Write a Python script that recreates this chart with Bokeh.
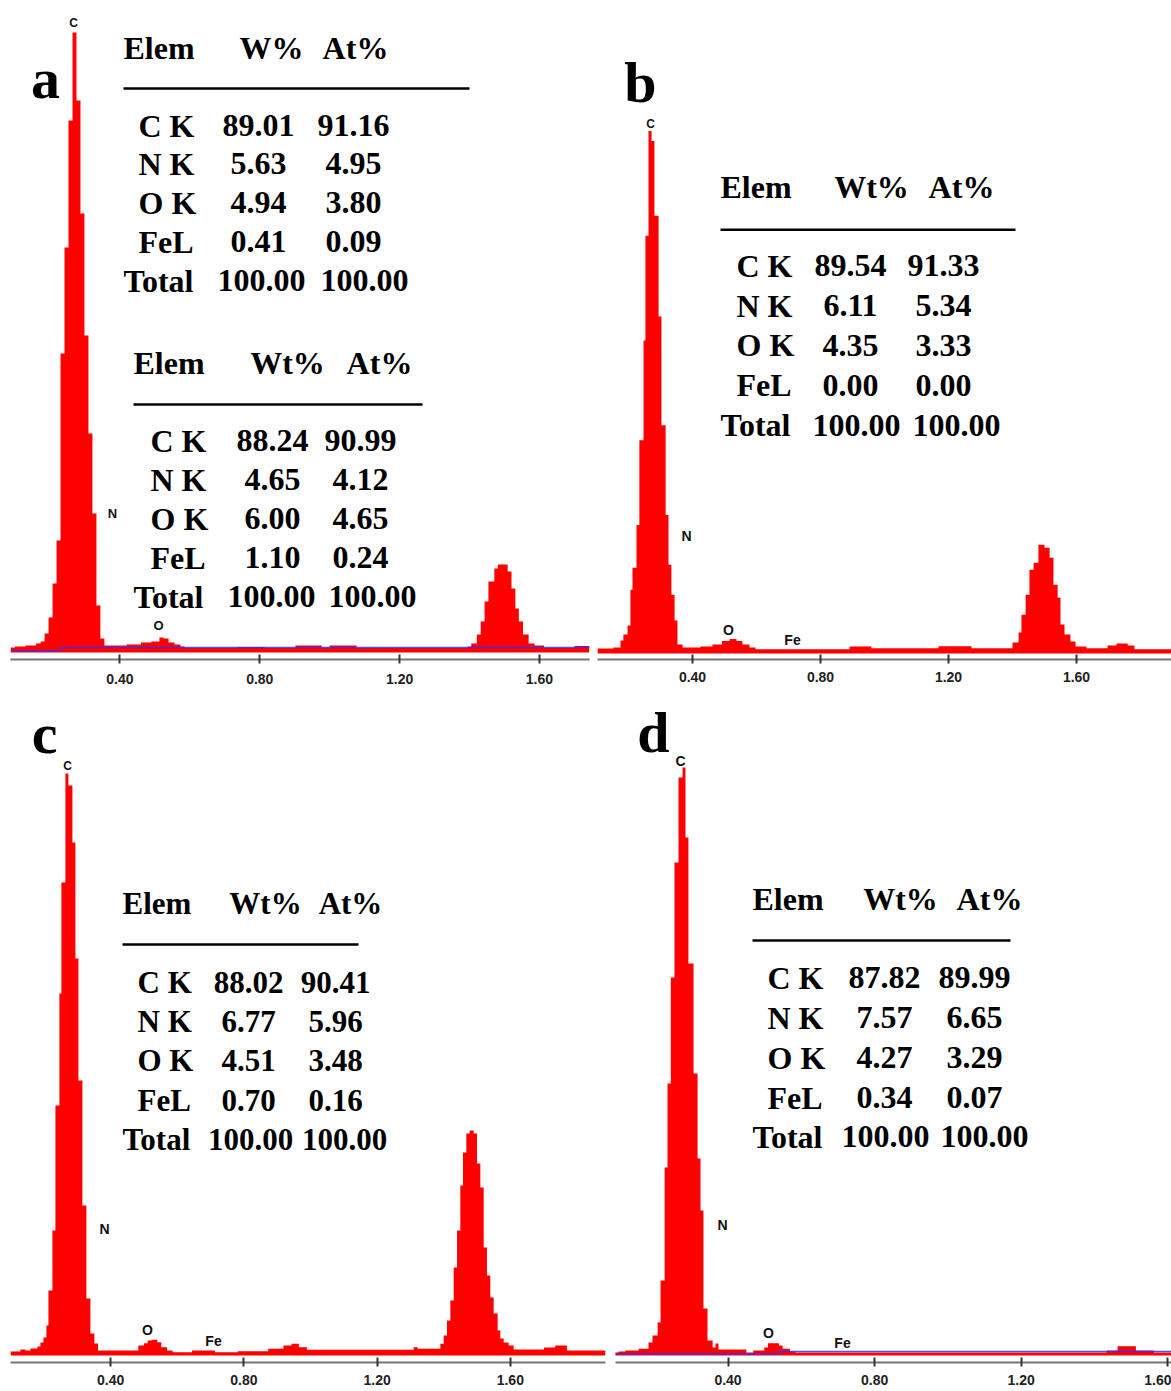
from bokeh.plotting import figure
from bokeh.layouts import column, row
from bokeh.models import FixedTicker, PrintfTickFormatter, Range1d
from bokeh.embed import file_html
from bokeh.resources import INLINE
from bokeh.core.properties import value

# ------------------------------------------------------------------ data
TICKS = [0.40, 0.80, 1.20, 1.60]
ELEMENTS = ["C K", "N K", "O K", "FeL", "Total"]

# panel a spectrum: bin edges (keV) and counts (arbitrary units)
A_EDGES = [0.087, 0.100, 0.115, 0.130, 0.145, 0.160, 0.1731, 0.1845, 0.1959, 0.2073,
           0.2187, 0.2301, 0.2415, 0.2529, 0.2643, 0.2757, 0.2871, 0.2985, 0.3099, 0.3213,
           0.3327, 0.3441, 0.3555, 0.385, 0.419, 0.460, 0.490, 0.513, 0.525, 0.539,
           0.556, 0.573, 0.585, 0.736, 0.814, 0.902, 0.977, 1.000, 1.077, 1.394,
           1.405, 1.421, 1.432, 1.443, 1.454, 1.471, 1.481, 1.509, 1.520, 1.531,
           1.541, 1.553, 1.569, 1.586, 1.613, 1.700, 1.743]
A_COUNTS = [5, 6, 6, 7, 7, 9, 11, 19, 35, 69,
            112, 299, 405, 532, 620, 552, 439, 317, 219, 139,
            47, 14, 7, 7, 8, 10, 11, 15, 14, 10,
            8, 6, 4.5, 5.5, 4.5, 7, 5, 7, 4.5, 6,
            9, 18, 31, 51, 71, 84, 88, 81, 64, 44,
            31, 18, 9, 7, 4.5, 6.5]
A_BG_X = [0.087, 0.232, 0.232, 1.743]
A_BG_Y = [2, 2, 5, 5]

B_EDGES = [0.103, 0.153, 0.175, 0.184, 0.197, 0.206, 0.2125, 0.225, 0.234, 0.247,
           0.253, 0.2625, 0.272, 0.281, 0.294, 0.303, 0.316, 0.325, 0.334, 0.344,
           0.353, 0.369, 0.425, 0.4625, 0.492, 0.516, 0.5375, 0.556, 0.578, 0.597,
           0.891, 0.959, 1.169, 1.272, 1.400, 1.419, 1.428, 1.441, 1.453, 1.466,
           1.481, 1.500, 1.516, 1.528, 1.541, 1.550, 1.5625, 1.581, 1.597, 1.631,
           1.697, 1.725, 1.760, 1.781, 1.900]
B_COUNTS = [5, 6, 13, 19, 28, 64, 86, 129, 214, 314,
            419, 524, 514, 439, 338, 229, 139, 89, 59, 33,
            9, 6, 7, 9, 12.5, 14.5, 12.5, 9, 6, 4.3,
            7, 5.3, 7.3, 5.3, 11, 21, 39, 59, 84, 91,
            109, 106, 96, 69, 56, 29, 19, 12, 7, 5.3,
            8, 10, 8, 4.3]

C_EDGES = [0.099, 0.129, 0.144, 0.159, 0.180, 0.189, 0.198, 0.207, 0.213, 0.225,
           0.234, 0.246, 0.252, 0.264, 0.273, 0.285, 0.294, 0.303, 0.315, 0.327,
           0.339, 0.351, 0.362, 0.483, 0.500, 0.511, 0.523, 0.540, 0.552, 0.569,
           0.586, 0.644, 0.713, 0.782, 0.873, 0.919, 0.943, 0.965, 0.989, 1.310,
           1.322, 1.390, 1.400, 1.410, 1.420, 1.430, 1.440, 1.450, 1.458, 1.468,
           1.478, 1.490, 1.500, 1.510, 1.520, 1.530, 1.540, 1.550, 1.562, 1.570,
           1.580, 1.595, 1.610, 1.701, 1.735, 1.770, 1.886]
C_COUNTS = [4, 6, 5, 7, 9, 13, 18, 30, 65, 125,
            250, 362, 473, 582, 570, 513, 397, 275, 150, 57,
            22, 12, 5, 10, 12.3, 15, 15.7, 13.3, 8.3, 5,
            3.3, 5, 3.3, 4.3, 6.7, 10, 11.7, 8.3, 5.7, 8.3,
            6.7, 11.7, 20, 35, 55, 88, 125, 170, 203, 222,
            225, 222, 192, 168, 108, 80, 58, 42, 25, 17,
            13, 10, 6, 8, 10, 5]

D_EDGES = [0.092, 0.101, 0.120, 0.156, 0.183, 0.194, 0.208, 0.216, 0.227, 0.235,
           0.244, 0.254, 0.265, 0.276, 0.284, 0.292, 0.306, 0.317, 0.325, 0.333,
           0.344, 0.358, 0.366, 0.374, 0.450, 0.469, 0.499, 0.509, 0.539, 0.549,
           0.569, 0.584, 1.433, 1.463, 1.513, 1.562, 1.610]
D_COUNTS = [3, 4, 5, 6.7, 13, 20, 33, 75, 188, 272,
            378, 493, 578, 588, 518, 392, 282, 197, 145, 47,
            15, 8, 12, 6, 3, 5, 8, 12.3, 10, 6.7,
            4, 3, 5, 9.3, 5, 3]
D_BG_X = [0.092, 0.539, 0.539, 1.610]
D_BG_Y = [1.5, 1.5, 4, 4]

A1_HEAD = ["Elem", "W%", "At%"]
A1_WT = [89.01, 5.63, 4.94, 0.41, 100.00]
A1_AT = [91.16, 4.95, 3.80, 0.09, 100.00]
A2_HEAD = ["Elem", "Wt%", "At%"]
A2_WT = [88.24, 4.65, 6.00, 1.10, 100.00]
A2_AT = [90.99, 4.12, 4.65, 0.24, 100.00]
B_HEAD = ["Elem", "Wt%", "At%"]
B_WT = [89.54, 6.11, 4.35, 0.00, 100.00]
B_AT = [91.33, 5.34, 3.33, 0.00, 100.00]
C_HEAD = ["Elem", "Wt%", "At%"]
C_WT = [88.02, 6.77, 4.51, 0.70, 100.00]
C_AT = [90.41, 5.96, 3.48, 0.16, 100.00]
D_HEAD = ["Elem", "Wt%", "At%"]
D_WT = [87.82, 7.57, 4.27, 0.34, 100.00]
D_AT = [89.99, 6.65, 3.29, 0.07, 100.00]

# ------------------------------------------------------------------ layout (page pixels)
GEOM = {
    "a": dict(left=0, top=0, w=593, h=696, fl=10, fr=589, zero=-20.4, scale=349.6, base=652, axis=659, standoff=10),
    "b": dict(left=593, top=0, w=578, h=696, fl=597, fr=1171, zero=564.0, scale=320.0, base=655, axis=661, standoff=8),
    "c": dict(left=0, top=696, w=610, h=695, fl=10, fr=605, zero=-23.0, scale=333.0, base=1355, axis=1362, standoff=8),
    "d": dict(left=610, top=696, w=561, h=695, fl=615, fr=1171, zero=580.9, scale=366.5, base=1355, axis=1362, standoff=8),
}

SERIF = value("Liberation Serif")
SANS = value("Liberation Sans")


def px(g, x, y):
    return (x - g["zero"]) / g["scale"], g["base"] - y


def make_panel(g, edges, counts, bg_x=None, bg_y=None):
    x0, _ = px(g, g["fl"], 0)
    x1, _ = px(g, g["fr"], 0)
    p = figure(width=g["w"], height=g["h"],
               x_range=Range1d(x0, x1), y_range=Range1d(g["base"] - g["axis"], g["base"] - g["top"]),
               output_backend="svg", toolbar_location=None, y_axis_location=None,
               min_border_left=g["fl"] - g["left"], min_border_right=g["left"] + g["w"] - g["fr"],
               min_border_top=0, min_border_bottom=g["top"] + g["h"] - g["axis"])
    p.outline_line_color = None
    p.grid.visible = False
    p.background_fill_color = "white"
    p.border_fill_color = "white"
    ys = list(counts) + [counts[-1]]
    p.varea_step(x=list(edges), y1=[0] * len(ys), y2=ys, step_mode="after",
                 fill_color="#ff0000")
    if bg_x is not None:
        p.line(bg_x, bg_y, line_color="#3030ff", line_width=1.6, line_alpha=0.85)
    ax = p.xaxis[0]
    ax.ticker = FixedTicker(ticks=TICKS)
    ax.formatter = PrintfTickFormatter(format="%.2f")
    ax.minor_tick_line_color = None
    ax.major_tick_in = 5
    ax.major_tick_out = 4
    ax.major_tick_line_color = "#333333"
    ax.major_tick_line_width = 2
    ax.axis_line_color = "#777777"
    ax.axis_line_width = 2
    ax.major_label_text_font = "Liberation Sans"
    ax.major_label_text_font_style = "bold"
    ax.major_label_text_font_size = "14px"
    ax.major_label_text_color = "#222222"
    ax.major_label_standoff = g["standoff"]
    return p


def add_peak_labels(p, g, labels):
    xs, ys, ts, ss = [], [], [], []
    for t, x, y, s in labels:
        dx, dy = px(g, x, y)
        xs.append(dx); ys.append(dy); ts.append(t); ss.append(s)
    p.text(x=xs, y=ys, text=ts, text_font=SANS, text_font_style="bold",
           text_font_size=ss, text_align="center", text_baseline="middle", text_color="#111111")


def add_letter(p, g, letter, x, y):
    dx, dy = px(g, x, y)
    p.text(x=[dx], y=[dy], text=[letter], text_font=SERIF, text_font_style="bold",
           text_font_size="58px", text_align="center", text_baseline="middle", text_color="black")


def add_table(p, g, head, wt, at, L, I, c2, c3, hy, ly, lx1, rows, hc2, hc3, t2, t3, fs):
    size = f"{fs}px"
    kw = dict(text_font=SERIF, text_font_style="bold", text_font_size=size,
              text_baseline="middle", text_color="black")
    hx, hyy = px(g, L, hy)
    p.text(x=[hx], y=[hyy], text=[head[0]], text_align="left", **kw)
    x2, _ = px(g, hc2, hy)
    x3, _ = px(g, hc3, hy)
    p.text(x=[x2, x3], y=[hyy, hyy], text=[head[1], head[2]], text_align="center", **kw)
    lx0d, lyd = px(g, L, ly)
    lx1d, _ = px(g, lx1, ly)
    p.line([lx0d, lx1d], [lyd, lyd], line_color="black", line_width=2.5)
    for i, (el, w, a) in enumerate(zip(ELEMENTS, wt, at)):
        last = (i == len(ELEMENTS) - 1)
        nx, ny = px(g, L if last else I, rows[i])
        p.text(x=[nx], y=[ny], text=[el], text_align="left", **kw)
        wx, _ = px(g, t2 if last else c2, rows[i])
        ax_, _ = px(g, t3 if last else c3, rows[i])
        p.text(x=[wx, ax_], y=[ny, ny], text=[f"{w:.2f}", f"{a:.2f}"], text_align="center", **kw)


# ------------------------------------------------------------------ panels
ga, gb, gc, gd = GEOM["a"], GEOM["b"], GEOM["c"], GEOM["d"]

pa = make_panel(ga, A_EDGES, A_COUNTS, A_BG_X, A_BG_Y)
add_peak_labels(pa, ga, [("C", 73, 22, "12px"), ("N", 112, 513, "13px"), ("O", 158, 625, "13px")])
add_letter(pa, ga, "a", 45, 78)
add_table(pa, ga, A1_HEAD, A1_WT, A1_AT, 123, 138, 258, 353, 47, 88, 469,
          [125, 163, 202, 241, 280], 271, 355, 261, 364, 32)
add_table(pa, ga, A2_HEAD, A2_WT, A2_AT, 133, 150, 272, 360, 362, 404, 422,
          [440, 479, 518, 557, 596], 287, 379, 271, 372, 32)

pb = make_panel(gb, B_EDGES, B_COUNTS)
add_peak_labels(pb, gb, [("C", 650, 124, "12px"), ("N", 686, 537, "14px"),
                         ("O", 728, 631, "14px"), ("Fe", 792, 641, "14px")])
add_letter(pb, gb, "b", 640, 82)
add_table(pb, gb, B_HEAD, B_WT, B_AT, 720, 736, 850, 943, 187, 230, 1015,
          [266, 306, 346, 386, 426], 871, 961, 856, 956, 32)

pc = make_panel(gc, C_EDGES, C_COUNTS)
add_peak_labels(pc, gc, [("C", 67, 765, "12px"), ("N", 104, 1228, "14px"),
                         ("O", 147, 1329, "14px"), ("Fe", 213, 1340, "14px")])
add_letter(pc, gc, "c", 44, 733)
add_table(pc, gc, C_HEAD, C_WT, C_AT, 122, 137, 248, 335, 903, 944, 358,
          [982, 1021, 1060, 1100, 1139], 265, 350, 250, 344, 31)

pd = make_panel(gd, D_EDGES, D_COUNTS, D_BG_X, D_BG_Y)
add_peak_labels(pd, gd, [("C", 680, 760, "14px"), ("N", 722, 1224, "14px"),
                         ("O", 768, 1332, "14px"), ("Fe", 842, 1342, "14px")])
add_letter(pd, gd, "d", 653, 732)
add_table(pd, gd, D_HEAD, D_WT, D_AT, 752, 767, 884, 974, 898, 940, 1010,
          [977, 1017, 1057, 1097, 1136], 900, 989, 885, 984, 32)

layout = column(row(pa, pb, spacing=0), row(pc, pd, spacing=0), spacing=0)

with open("out.html", "w") as f:
    f.write(file_html(layout, INLINE))
